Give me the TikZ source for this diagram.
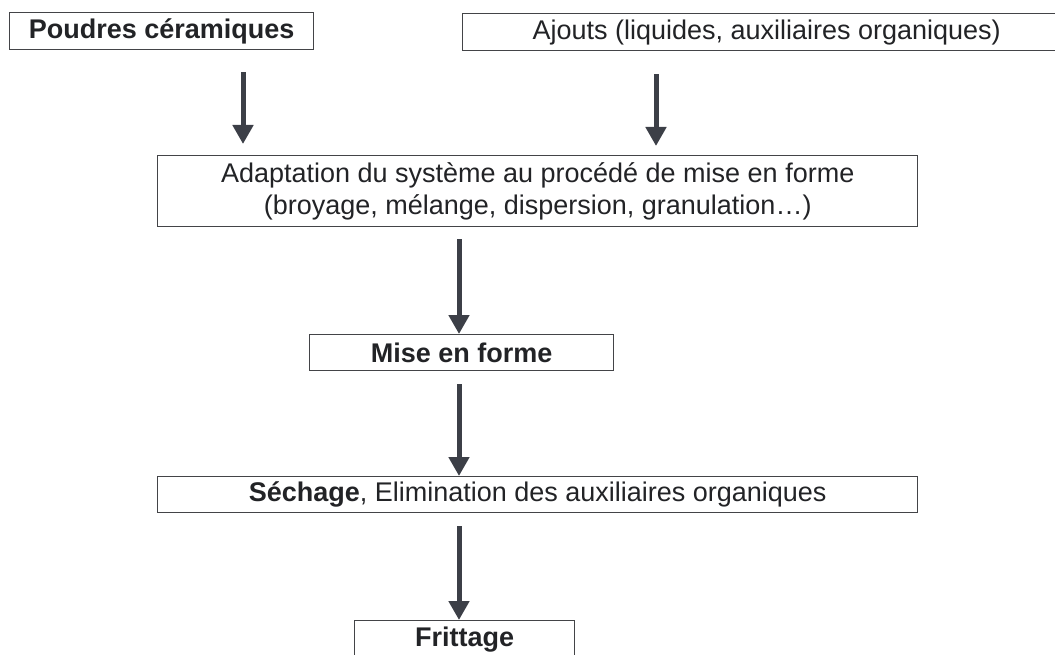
\documentclass[tikz,border=0pt]{standalone}
\usepackage{fontspec}
\setmainfont{Liberation Sans}
\usetikzlibrary{arrows.meta}
\definecolor{ink}{HTML}{222326}
\definecolor{arrowgray}{HTML}{3C3F47}
\tikzset{
  box/.style={draw=ink!85,line width=1.4pt,inner sep=0pt,anchor=north west,text=ink,font=\fontsize{27}{32}\selectfont},
  flow/.style={draw=arrowgray,line width=5pt,-{Triangle[width=20pt,length=19pt]},arrowgray}
}
\begin{document}
\begin{tikzpicture}[x=1pt,y=-1pt]
\useasboundingbox (0,0) rectangle (1055,655);
\clip (0,0) rectangle (1055,655);

\node[box,minimum width=304pt,minimum height=37pt] (poudres) at (9,12) {\textbf{Poudres céramiques}};
\node[box,minimum width=608pt,minimum height=37pt] (ajouts) at (462,13) {Ajouts (liquides, auxiliaires organiques)};

\node[box,minimum width=760pt,minimum height=71pt,align=center] (adapt) at (157,155) {Adaptation du système au procédé de mise en forme\\(broyage, mélange, dispersion, granulation\dots)};

\node[box,minimum width=304pt,minimum height=36pt] (mise) at (309,334) {\textbf{Mise en forme}};

\node[box,minimum width=760pt,minimum height=36pt] (sechage) at (157,476) {\textbf{Séchage}, Elimination des auxiliaires organiques};

\node[box,minimum width=220pt,minimum height=37pt] (frittage) at (354,620) {\textbf{Frittage}};

\coordinate (c1) at (243,0);
\coordinate (c2) at (656,0);
\coordinate (c3) at (459,0);

\draw[flow] ([yshift=-22pt]poudres.south -| c1) -- ([yshift=11pt]adapt.north -| c1);
\draw[flow] ([yshift=-23pt]ajouts.south -| c2) -- ([yshift=9pt]adapt.north -| c2);
\draw[flow] ([yshift=-12pt]adapt.south -| c3) -- (mise.north -| c3);
\draw[flow] ([yshift=-13pt]mise.south -| c3) -- (sechage.north -| c3);
\draw[flow] ([yshift=-13pt]sechage.south -| c3) -- (frittage.north -| c3);
\end{tikzpicture}
\end{document}
